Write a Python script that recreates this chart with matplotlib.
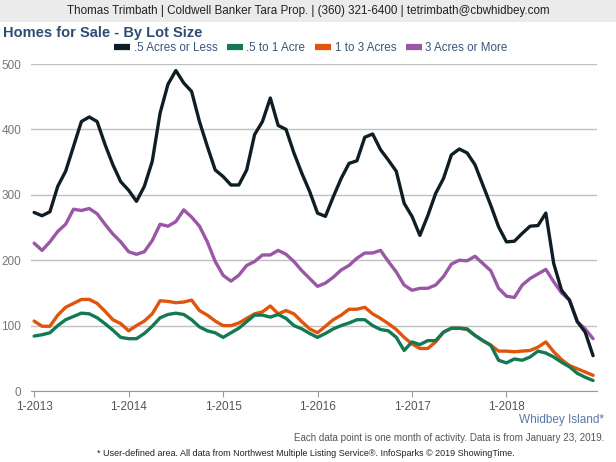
import numpy as np
import matplotlib
matplotlib.use('Agg')
from matplotlib import pyplot as plt
from matplotlib.lines import Line2D
from matplotlib.patches import Rectangle

plt.rcParams['font.family'] = ['Liberation Sans', 'DejaVu Sans']

# monthly counts, Jan 2013 .. Dec 2018
half_or_less = [273, 268, 274, 313, 336, 374, 412, 419, 412, 377, 346, 320,
                307, 290, 313, 351, 425, 469, 490, 471, 458, 412, 374, 338,
                328, 315, 315, 338, 392, 412, 448, 406, 400, 364, 333, 305,
                272, 267, 297, 325, 348, 352, 388, 393, 369, 353, 336, 287,
                267, 238, 268, 302, 325, 361, 370, 364, 346, 315, 284, 251,
                228, 229, 241, 252, 253, 272, 195, 154, 139, 106, 90, 54]
half_to_one = [84, 86, 89, 100, 109, 114, 119, 118, 112, 103, 93, 82,
               80, 80, 88, 99, 112, 117, 119, 117, 109, 98, 92, 89,
               82, 89, 96, 106, 116, 116, 113, 117, 111, 100, 95, 88,
               82, 88, 95, 100, 104, 109, 109, 100, 94, 92, 82, 62,
               75, 71, 77, 77, 90, 96, 96, 95, 85, 77, 70, 47,
               43, 49, 47, 52, 61, 58, 52, 44, 37, 27, 21, 16]
one_to_three = [107, 99, 99, 116, 128, 134, 140, 140, 134, 122, 109, 103,
                92, 100, 107, 118, 138, 137, 135, 136, 139, 123, 116, 107,
                100, 100, 104, 111, 118, 121, 130, 118, 123, 118, 106, 95,
                89, 99, 109, 116, 125, 125, 128, 118, 111, 103, 94, 82,
                72, 65, 65, 75, 90, 96, 96, 94, 85, 77, 70, 61,
                61, 60, 61, 62, 67, 75, 60, 48, 39, 34, 29, 24]
three_or_more = [226, 215, 228, 244, 255, 278, 276, 279, 271, 255, 240, 228,
                 213, 209, 213, 230, 255, 252, 259, 277, 266, 252, 228, 198,
                 177, 168, 177, 192, 198, 208, 208, 215, 209, 198, 184, 172,
                 160, 165, 174, 185, 192, 203, 211, 211, 215, 198, 182, 162,
                 154, 157, 157, 162, 175, 194, 200, 199, 206, 195, 184, 157,
                 145, 143, 162, 172, 179, 186, 167, 150, 139, 106, 95, 80]

series_names = ['.5 Acres or Less', '.5 to 1 Acre', '1 to 3 Acres', '3 Acres or More']
series_colors = ['#0e1e24', '#117a52', '#e0540c', '#9a57a6']
year_labels = ['1-2013', '1-2014', '1-2015', '1-2016', '1-2017', '1-2018']

W, H = 616, 462
fig = plt.figure(figsize=(W / 100, H / 100), dpi=100)

def fx(px):
    return px / W

def fy(py):
    return 1 - py / H

# header band
fig.patches.append(Rectangle((0, fy(22)), 1, 22 / H, transform=fig.transFigure,
                             facecolor='#ebebeb', edgecolor='none', zorder=0))
fig.text(fx(308), fy(11), 'Thomas Trimbath | Coldwell Banker Tara Prop. | (360) 321-6400 | tetrimbath@cbwhidbey.com',
         ha='center', va='center', fontsize=8.4, color='#222222')
fig.text(fx(3), fy(33), 'Homes for Sale - By Lot Size', ha='left', va='center',
         fontsize=10.5, fontweight='bold', color='#2e4d72')

ax = fig.add_axes([fx(31), fy(391), fx(597 - 31), (391 - 64) / H])
x = np.arange(len(half_or_less))
all_series = [half_or_less, half_to_one, one_to_three, three_or_more]
# draw order: purple, orange, green, black on top
for i in [3, 2, 1, 0]:
    ax.plot(x, all_series[i], color=series_colors[i], lw=2.4, solid_joinstyle='round',
            solid_capstyle='round', zorder=3 + (3 - i))

ax.set_xlim(-0.4, 71.5)
ax.set_ylim(0, 500)
ax.set_yticks(range(0, 501, 100))
ax.yaxis.grid(True, color='#c0c0c0', lw=1)
ax.set_axisbelow(True)
for s in ['left', 'right', 'top']:
    ax.spines[s].set_visible(False)
ax.spines['bottom'].set_color('#9a9a9a')
ax.set_xticks(range(0, 72, 12))
ax.set_xticklabels(year_labels)
ax.tick_params(axis='x', length=4, color='#9a9a9a', labelsize=8.5, labelcolor='#555555', pad=3)
ax.tick_params(axis='y', length=0, labelsize=8.5, labelcolor='#777777', pad=7)

handles = [Line2D([], [], color=c, lw=4.5, solid_capstyle='butt') for c in series_colors]
leg = fig.legend(handles, series_names, loc='center', bbox_to_anchor=(fx(311), fy(48)),
                 ncol=4, frameon=False, fontsize=8.4, handlelength=1.35, handletextpad=0.3,
                 columnspacing=0.85, labelcolor='#3b5679')

fig.text(fx(604), fy(420), 'Whidbey Island*', ha='right', va='center', fontsize=8.5, color='#5878a8')
fig.text(fx(604), fy(438), 'Each data point is one month of activity. Data is from January 23, 2019.',
         ha='right', va='center', fontsize=7.1, color='#555555')
fig.text(fx(306), fy(453), '* User-defined area. All data from Northwest Multiple Listing Service\u00ae. InfoSparks \u00a9 2019 ShowingTime.',
         ha='center', va='center', fontsize=6.5, color='#222222')

fig.savefig('out.png', dpi=100)
